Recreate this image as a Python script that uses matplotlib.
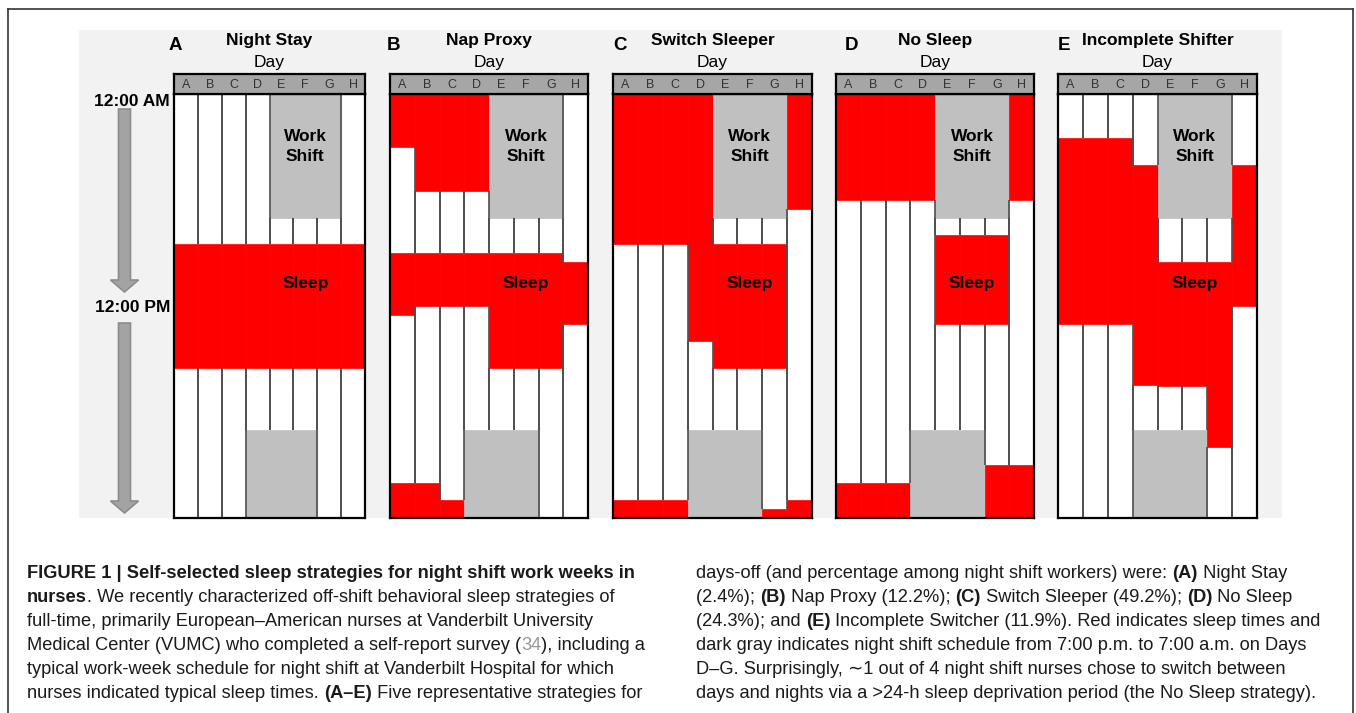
import matplotlib
matplotlib.use('Agg')
import matplotlib.pyplot as plt
from matplotlib import font_manager
from matplotlib.font_manager import FontProperties
from matplotlib.patches import Rectangle, FancyArrow
from matplotlib.lines import Line2D

W, H = 1356, 713

days = ['A', 'B', 'C', 'D', 'E', 'F', 'G', 'H']

# night shift 7 p.m. -> 7 a.m., starting on days D, E, F
shift_start = 19
shift_end = 7
shift_nights = ['D', 'E', 'F']

# sleep bouts per day, (from hour, to hour), 0 = midnight at top
night_stay = {
    'A': [(8.5, 15.5)], 'B': [(8.5, 15.5)], 'C': [(8.5, 15.5)], 'D': [(8.5, 15.5)],
    'E': [(8.5, 15.5)], 'F': [(8.5, 15.5)], 'G': [(8.5, 15.5)], 'H': [(8.5, 15.5)],
}
nap_proxy = {
    'A': [(0, 3), (9, 12.5), (22, 24)],
    'B': [(0, 5.5), (9, 12), (22, 24)],
    'C': [(0, 5.5), (9, 12), (23, 24)],
    'D': [(0, 5.5), (9, 12)],
    'E': [(9, 15.5)],
    'F': [(9, 15.5)],
    'G': [(9, 15.5)],
    'H': [(9.5, 13)],
}
switch_sleeper = {
    'A': [(0, 8.5), (23, 24)],
    'B': [(0, 8.5), (23, 24)],
    'C': [(0, 8.5), (23, 24)],
    'D': [(0, 14)],
    'E': [(8.5, 15.5)],
    'F': [(8.5, 15.5)],
    'G': [(8.5, 15.5), (23.5, 24)],
    'H': [(0, 6.5), (23, 24)],
}
no_sleep = {
    'A': [(0, 6), (22, 24)],
    'B': [(0, 6), (22, 24)],
    'C': [(0, 6), (22, 24)],
    'D': [(0, 6)],
    'E': [(8, 13)],
    'F': [(8, 13)],
    'G': [(8, 13), (21, 24)],
    'H': [(0, 6), (21, 24)],
}
incomplete_shifter = {
    'A': [(2.5, 13)],
    'B': [(2.5, 13)],
    'C': [(2.5, 13)],
    'D': [(4, 16.5)],
    'E': [(9.5, 16.5)],
    'F': [(9.5, 16.5)],
    'G': [(9.5, 20)],
    'H': [(4, 12)],
}

strategies = [night_stay, nap_proxy, switch_sleeper, no_sleep, incomplete_shifter]
panel_letters = ['A', 'B', 'C', 'D', 'E']
panel_titles = ['Night Stay', 'Nap Proxy', 'Switch Sleeper', 'No Sleep', 'Incomplete Shifter']

# layout in pixels
panel_left = [174, 390, 613, 836, 1058]
panel_width = [191, 198, 199, 198, 199]
letter_x = [175, 394, 620, 851, 1064]
head_top, body_top, body_bot = 74, 94, 518

RED = '#ff0000'
WORK = '#c0c0c0'
HEAD = '#a6a6a6'
LINE = '#4d4d4d'

available = {f.name for f in font_manager.fontManager.ttflist}
main_font = 'Liberation Sans' if 'Liberation Sans' in available else 'DejaVu Sans'
cap_font = 'Liberation Sans Narrow' if 'Liberation Sans Narrow' in available else main_font
plt.rcParams['font.family'] = [main_font, 'DejaVu Sans']

fig = plt.figure(figsize=(W / 100, H / 100), dpi=100)
fig.patch.set_facecolor('white')

bg = fig.add_axes([0, 0, 1, 1])
bg.set_xlim(0, W)
bg.set_ylim(H, 0)
bg.axis('off')

# page frame and light gray figure area
bg.add_patch(Rectangle((79, 30), 1203, 488, facecolor='#f2f2f2', edgecolor='none'))
for xs, ys in [([8, 8], [9, H]), ([8, 1353], [9, 9]), ([1353, 1353], [9, H])]:
    bg.add_line(Line2D(xs, ys, color='#333333', lw=1.2))

# time labels and arrows
bg.text(170, 101, '12:00 AM', ha='right', va='center', fontsize=12.5, fontweight='bold')
bg.text(170, 307, '12:00 PM', ha='right', va='center', fontsize=12.5, fontweight='bold')
for y0, y1 in [(109, 292), (323, 513)]:
    bg.add_patch(FancyArrow(124.5, y0, 0, y1 - y0, width=12, head_width=28, head_length=12,
                            length_includes_head=True, fc='#a3a3a3', ec='#8c8c8c', lw=1.2))


def work_blocks():
    blocks = {d: [] for d in days}
    for d in shift_nights:
        i = days.index(d)
        blocks[d].append((shift_start, 24))
        blocks[days[i + 1]].append((0, shift_end))
    return blocks


def white_parts(busy):
    parts, t = [], 0
    for a, b in sorted(busy):
        if a > t:
            parts.append((t, a))
        t = max(t, b)
    if t < 24:
        parts.append((t, 24))
    return parts


work = work_blocks()

for k, sleep in enumerate(strategies):
    l, w = panel_left[k], panel_width[k]
    ax = fig.add_axes([l / W, 1 - body_bot / H, w / W, (body_bot - body_top) / H])
    ax.set_xlim(0, 8)
    ax.set_ylim(24, 0)
    ax.set_facecolor('white')
    for i, d in enumerate(days):
        for a, b in sleep[d]:
            ax.bar(i, b - a, bottom=a, width=1, align='edge', color=RED, edgecolor=RED, lw=0.5)
        for a, b in work[d]:
            ax.bar(i, b - a, bottom=a, width=1, align='edge', color=WORK, edgecolor=WORK, lw=0.5)
        for a, b in white_parts(sleep[d] + work[d]):
            ax.vlines([i, i + 1], a, b, color=LINE, lw=1.2, zorder=3)
    ax.text(5.5, 2.95, 'Work\nShift', ha='center', va='center', fontsize=12.5,
            fontweight='bold', linespacing=1.4, zorder=4)
    ax.text(5.5, 10.75, 'Sleep', ha='center', va='center', fontsize=12.5,
            fontweight='bold', zorder=4)
    ax.set_xticks([])
    ax.set_yticks([])
    for s in ax.spines.values():
        s.set_linewidth(1.6)
        s.set_color('black')
        s.set_zorder(5)

    hx = fig.add_axes([l / W, 1 - body_top / H, w / W, (body_top - head_top) / H])
    hx.set_xlim(0, 8)
    hx.set_ylim(0, 1)
    hx.set_facecolor(HEAD)
    for i, d in enumerate(days):
        hx.text(i + 0.5, 0.45, d, ha='center', va='center', fontsize=9, color='#333333')
    hx.set_xticks([])
    hx.set_yticks([])
    for s in hx.spines.values():
        s.set_linewidth(1.6)
        s.set_color('black')

    cx = l + w / 2
    bg.text(cx, 41, panel_titles[k], ha='center', va='center', fontsize=12.5, fontweight='bold')
    bg.text(cx, 62, 'Day', ha='center', va='center', fontsize=12.5)
    bg.text(letter_x[k], 45, panel_letters[k], ha='center', va='center', fontsize=13.5,
            fontweight='bold')

# caption
n, b, g = 'normal', 'bold', '#999999'
left_lines = [
    [('FIGURE 1 | Self-selected sleep strategies for night shift work weeks in', b)],
    [('nurses', b), ('. We recently characterized off-shift behavioral sleep strategies of', n)],
    [('full-time, primarily European\u2013American nurses at Vanderbilt University', n)],
    [('Medical Center (VUMC) who completed a self-report survey (', n), ('34', n, g),
     ('), including a', n)],
    [('typical work-week schedule for night shift at Vanderbilt Hospital for which', n)],
    [('nurses indicated typical sleep times. ', n), ('(A\u2013E)', b),
     (' Five representative strategies for', n)],
]
right_lines = [
    [('days-off (and percentage among night shift workers) were: ', n), ('(A)', b),
     (' Night Stay', n)],
    [('(2.4%); ', n), ('(B)', b), (' Nap Proxy (12.2%); ', n), ('(C)', b),
     (' Switch Sleeper (49.2%); ', n), ('(D)', b), (' No Sleep', n)],
    [('(24.3%); and ', n), ('(E)', b),
     (' Incomplete Switcher (11.9%). Red indicates sleep times and', n)],
    [('dark gray indicates night shift schedule from 7:00 p.m. to 7:00 a.m. on Days', n)],
    [('D\u2013G. Surprisingly, \u223c1 out of 4 night shift nurses chose to switch between', n)],
    [('days and nights via a >24-h sleep deprivation period (the No Sleep strategy).', n)],
]

renderer = fig.canvas.get_renderer()
cap_family = [cap_font, 'DejaVu Sans']


def run_width(s, weight, size):
    prop = FontProperties(family=cap_family, weight=weight, size=size)
    w1 = renderer.get_text_width_height_descent(s + '|', prop, ismath=False)[0]
    w0 = renderer.get_text_width_height_descent('|', prop, ismath=False)[0]
    return w1 - w0


def line_width(runs, size):
    return sum(run_width(r[0], r[1], size) for r in runs)


size_l = 10 * 614 / line_width(left_lines[3], 10)
size_r = 10 * 634 / line_width(right_lines[2], 10)
cap_size = (size_l + size_r) / 2


def draw_lines(lines, x0, y0):
    for j, runs in enumerate(lines):
        x = x0
        y = y0 + 24 * j
        for r in runs:
            col = r[2] if len(r) > 2 else '#1a1a1a'
            bg.text(x, y, r[0], ha='left', va='center', fontsize=cap_size, fontweight=r[1],
                    family=cap_family, color=col)
            x += run_width(r[0], r[1], cap_size)


draw_lines(left_lines, 27, 573)
draw_lines(right_lines, 696, 573)

fig.savefig('out.png', dpi=100, facecolor='white')
